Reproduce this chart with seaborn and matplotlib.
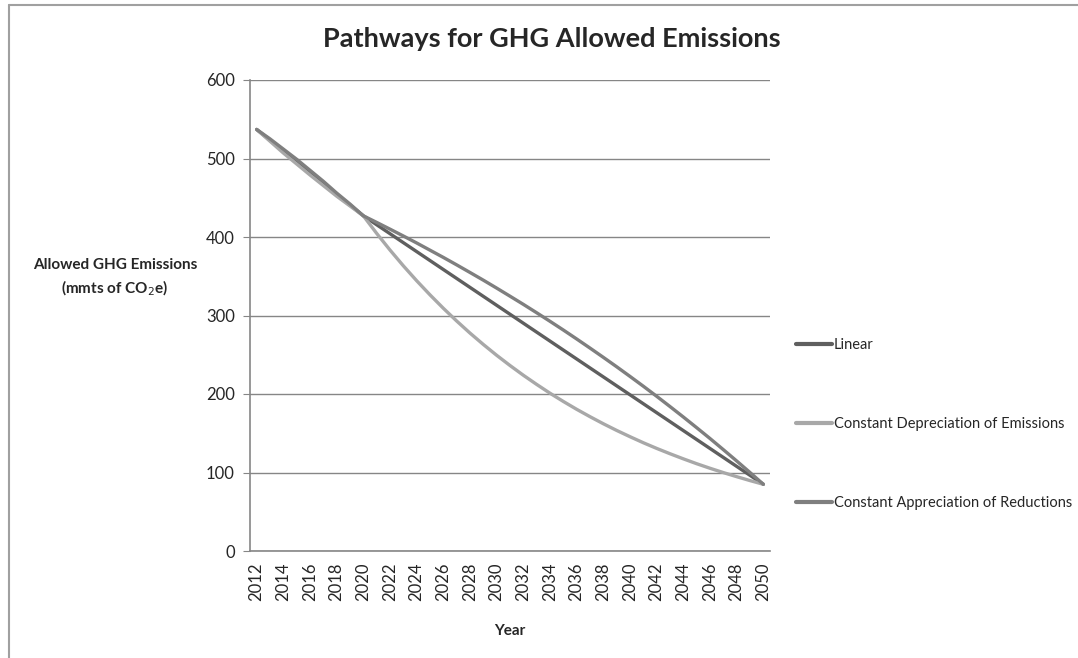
import pandas as pd
import seaborn as sns
import matplotlib.pyplot as plt
from matplotlib.lines import Line2D

years = list(range(2012, 2051))

linear = [537, 523.3, 509.5, 495.8, 482, 468.3, 454.5, 440.8, 427,
          415.6, 404.2, 392.8, 381.4, 370, 358.6, 347.2, 335.8, 324.4, 313,
          301.6, 290.2, 278.8, 267.4, 256, 244.6, 233.2, 221.8, 210.4, 199,
          187.6, 176.2, 164.8, 153.4, 142, 130.6, 119.2, 107.8, 96.4, 85]

depreciation = [537, 522, 507, 493, 479, 465.5, 452, 439.5, 427,
                404.6, 383.4, 363.3, 344.3, 326.3, 309.2, 293.0, 277.6, 263.1, 249.3,
                236.3, 223.9, 212.2, 201.0, 190.5, 180.5, 171.1, 162.1, 153.6, 145.6,
                137.9, 130.7, 123.9, 117.4, 111.2, 105.4, 99.9, 94.7, 89.7, 85]

appreciation = [537, 525, 512, 499, 485, 471, 456, 442, 427,
                418.6, 410.0, 401.3, 392.4, 383.2, 374.0, 364.5, 354.8, 345.0, 334.9,
                324.6, 314.2, 303.5, 292.6, 281.5, 270.1, 258.5, 246.7, 234.7, 222.4,
                209.9, 197.1, 184.0, 170.7, 157.1, 143.3, 129.1, 114.7, 100.0, 85]

names = ["Linear", "Constant Depreciation of Emissions", "Constant Appreciation of Reductions"]
colors = ["#5f5f5f", "#a8a8a8", "#7f7f7f"]

df = pd.concat([
    pd.DataFrame({"Year": years, "Emissions": linear, "Pathway": names[0]}),
    pd.DataFrame({"Year": years, "Emissions": depreciation, "Pathway": names[1]}),
    pd.DataFrame({"Year": years, "Emissions": appreciation, "Pathway": names[2]}),
])

sns.set_style("white")
plt.rcParams['font.family'] = ['Lato', 'DejaVu Sans']

fig = plt.figure(figsize=(10.78, 6.58), dpi=100)
ax = fig.add_axes([250 / 1078, 1 - 551 / 658, 520 / 1078, 471 / 658])

sns.lineplot(data=df, x="Year", y="Emissions", hue="Pathway", hue_order=names,
             palette=dict(zip(names, colors)), linewidth=2.4, ax=ax, legend=False)

ax.set_xlim(2011.5, 2050.5)
ax.set_ylim(0, 600)
ax.set_yticks(range(0, 601, 100))
ax.set_xticks(years[::2])
ax.set_xticklabels([str(y) for y in years[::2]], rotation=90, fontsize=12)
ax.tick_params(axis='y', labelsize=12, length=5, color="#868686", left=True, pad=6)
ax.tick_params(axis='x', length=0, pad=8)
ax.grid(axis='y', color="#868686", linewidth=1)
ax.set_axisbelow(True)
for side in ["top", "right"]:
    ax.spines[side].set_visible(False)
for side in ["left", "bottom"]:
    ax.spines[side].set_color("#868686")
    ax.spines[side].set_linewidth(1.2)

ax.set_xlabel("Year", fontsize=11, fontweight="bold", labelpad=17)
ax.set_ylabel("")
fig.text(115 / 1078, 1 - 278 / 658, "Allowed GHG Emissions\n(mmts of CO$_2$e)",
         ha="center", va="center", fontsize=11, fontweight="bold", linespacing=1.45)
fig.text(552 / 1078, 1 - 39 / 658, "Pathways for GHG Allowed Emissions",
         ha="center", va="center", fontsize=19.5, fontweight="bold")

handles = [Line2D([0], [0], color=c, linewidth=3) for c in colors]
fig.legend(handles, names, loc="upper left", bbox_to_anchor=(790 / 1078, 1 - 332 / 658),
           frameon=False, fontsize=10.5, handlelength=2.5, handletextpad=0.1,
           labelspacing=4.45, borderaxespad=0)

# chart frame (runs off the right and bottom edges)
fig.add_artist(Line2D([9 / 1078, 9 / 1078], [0, 1 - 5 / 658], color="#a0a0a0", linewidth=1.5))
fig.add_artist(Line2D([9 / 1078, 1], [1 - 5 / 658, 1 - 5 / 658], color="#a0a0a0", linewidth=1.5))

fig.savefig("out.png", dpi=100)
